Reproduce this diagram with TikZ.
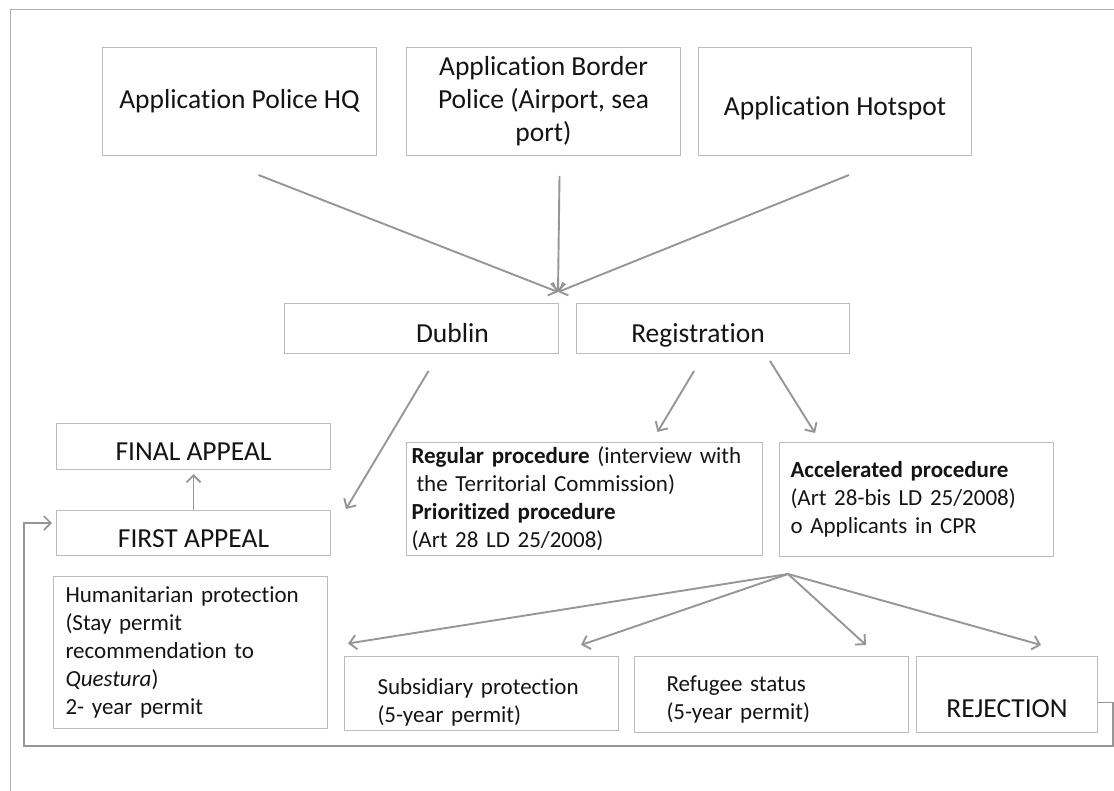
\documentclass[tikz,border=0pt]{standalone}
\usepackage{fontspec}
\setmainfont{Carlito}[Ligatures=NoCommon]
\usetikzlibrary{arrows.meta,positioning}
\definecolor{boxline}{RGB}{188,188,188}
\definecolor{flowgray}{RGB}{150,150,150}
\definecolor{frameline}{RGB}{175,175,175}
\definecolor{inktext}{RGB}{20,20,20}

\begin{document}
\begin{tikzpicture}[x=1pt, y=-1pt, >={Straight Barb[length=7pt,width=14pt]},
  stagebox/.style={draw=boxline, line width=1pt, anchor=north west, inner sep=0pt,
     text=inktext, font=\fontsize{27.5}{33}\selectfont},
  oneline/.style={text height=28pt, text depth=0pt},
  notebox/.style={stagebox, align=left, font=\fontsize{23}{28}\selectfont},
  flow/.style={->, draw=flowgray, line width=1.9pt}]
  \useasboundingbox (0,0) rectangle (1114,791);
  \draw[frameline, line width=1pt] (10,791) |- (1114,9.5);

  % applications
  \node[stagebox, minimum width=274pt, minimum height=108pt] (hq) at (102,47) {Application Police HQ};
  \node[stagebox, align=center, minimum width=274pt, minimum height=108pt] (border) at (406,47) {Application Border\\Police (Airport, sea\\port)};
  \node[stagebox, oneline, minimum width=273pt, minimum height=108pt] (hotspot) at (698,47) {Application Hotspot};
  \node[stagebox, oneline, minimum width=274pt, minimum height=50pt] (dublin) at (284,303) {\hspace*{62pt}Dublin};
  \node[stagebox, oneline, minimum width=273pt, minimum height=50pt] (registration) at (576,303) {Registration\hspace*{30pt}};
  \coordinate (merge) at (558,292);

  % appeals and procedures
  \node[stagebox, oneline, minimum width=274pt, minimum height=46pt] (final) at (56,423) {FINAL APPEAL};
  \node[stagebox, oneline, minimum width=274pt, minimum height=45pt] (first) at (56,510) {FIRST APPEAL};
  \node[notebox, minimum width=356pt, minimum height=113pt, text width=346pt, inner xsep=5pt] (regular) at (406,442)
     {\textbf{Regular procedure} (interview with\\\hspace*{5pt}the Territorial Commission)\\\textbf{Prioritized procedure}\\(Art 28 LD 25/2008)};
  \node[notebox, minimum width=274pt, minimum height=114pt, text width=252pt, inner xsep=11pt] (accel) at (779,442)
     {\textbf{Accelerated procedure}\\(Art 28-bis LD 25/2008)\\o Applicants in CPR};
  \coordinate (fan) at ([xshift=9pt,yshift=-17pt]accel.south west);

  % outcomes
  \node[notebox, minimum width=274pt, minimum height=152pt, text width=250pt, inner xsep=12pt] (humanitarian) at (53,576)
     {Humanitarian protection\\(Stay permit\\recommendation to\\\textit{Questura})\\2- year permit};
  \node[notebox, minimum width=274pt, minimum height=74pt, text width=208pt, inner xsep=33pt] (subsidiary) at (344,656)
     {\rule{0pt}{33pt}Subsidiary protection\\(5-year permit)};
  \node[notebox, minimum width=274pt, minimum height=76pt, text width=210pt, inner xsep=32pt] (refugee) at (634,656)
     {\rule{0pt}{25pt}Refugee status\\(5-year permit)};
  \node[stagebox, minimum width=181pt, minimum height=76pt, text height=46pt] (reject) at (916,656) {REJECTION};
  \coordinate (loop) at (24,746);

  \draw[flow] ([xshift=19pt,yshift=-19pt]hq.south) -- (merge);
  \draw[flow] ([xshift=16pt,yshift=-20pt]border.south) -- (merge);
  \draw[flow] ([xshift=14pt,yshift=-19pt]hotspot.south) -- (merge);
  \draw[flow] ([xshift=7pt,yshift=-17pt]dublin.south) -- ([xshift=15pt,yshift=24pt]first.east);
  \draw[flow, shorten >=4pt] (first.north) -- (final.south);
  \draw[flow] ([xshift=-19pt,yshift=-17pt]registration.south) -- ([xshift=73pt,yshift=10pt]regular.north);
  \draw[flow] ([xshift=-80pt,yshift=-7pt]registration.south east) -- ([xshift=36pt,yshift=9pt]accel.north west);
  \draw[flow] (fan) -- ([xshift=20pt,yshift=9pt]humanitarian.east);
  \draw[flow] (fan) -- ([xshift=-38pt,yshift=11pt]subsidiary.north east);
  \draw[flow] (fan) -- ([xshift=-43pt,yshift=11pt]refugee.north east);
  \draw[flow] (fan) -- ([xshift=-57pt,yshift=11pt]reject.north east);
  \draw[flow, line width=1.6pt, shorten >=4pt] ([yshift=-8pt]reject.east) -- ++(15,0) |- (loop) |- ([yshift=10pt]first.west);
\end{tikzpicture}
\end{document}
